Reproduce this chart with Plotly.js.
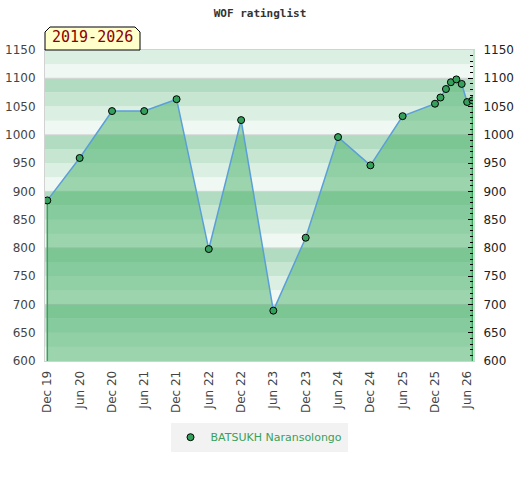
<!DOCTYPE html>
<html>
<head>
<meta charset="utf-8">
<script src="https://cdn.plot.ly/plotly-3.0.1.min.js"></script>
<style>html,body{margin:0;padding:0;background:#fff;}#chart{width:520px;height:480px;}</style>
</head>
<body>
<div id="chart"></div>
<script>
// ---- data ----
var dates = ['2019-12-01','2020-06-01','2020-12-01','2021-06-01','2021-12-01','2022-06-01','2022-12-01',
             '2023-06-01','2023-12-01','2024-06-01','2024-12-01','2025-06-01','2025-12-01',
             '2026-01-01','2026-02-01','2026-03-01','2026-04-01','2026-05-01','2026-06-01','2026-07-01'];
var ratings = [884, 959, 1042, 1042, 1063, 798, 1026, 689, 818, 996, 946, 1033, 1055,
               1066, 1081, 1093, 1098, 1090, 1058, 1061];
var tickDates = ['2019-12-01','2020-06-01','2020-12-01','2021-06-01','2021-12-01','2022-06-01','2022-12-01',
                 '2023-06-01','2023-12-01','2024-06-01','2024-12-01','2025-06-01','2025-12-01','2026-06-01'];
var tickLabels = ['Dec 19','Jun 20','Dec 20','Jun 21','Dec 21','Jun 22','Dec 22',
                  'Jun 23','Dec 23','Jun 24','Dec 24','Jun 25','Dec 25','Jun 26'];
var playerName = 'BATSUKH Naransolongo';
var chartTitle = 'WOF ratinglist';
var periodLabel = '2019-2026';
var yMin = 600, yMax = 1150;

// ---- background bands ----
var bandColors = {0:'#f0f8f3', 25:'#dcefe3', 50:'#c7e6d2', 75:'#b2dcc1'};
var shapes = [];
for (var v = yMin; v < yMax; v += 25) {
  shapes.push({type:'rect', xref:'paper', yref:'y', x0:0, x1:1, y0:v, y1:v+25,
    fillcolor: bandColors[v % 100], line:{width:0}, layer:'below'});
}
for (var g = Math.ceil(yMin/100)*100; g <= yMax; g += 100) {
  if (g === yMin) continue;
  shapes.push({type:'line', xref:'paper', yref:'y', x0:0, x1:1, y0:g, y1:g,
    line:{color:'#d2d2d2', width:1}, layer:'below'});
}
// tab behind the period label
shapes.push({type:'path', xref:'paper', yref:'paper', xsizemode:'pixel', ysizemode:'pixel',
  xanchor:0, yanchor:1, path:'M 0,0 L 0,18 L 5,23 L 90,23 L 95,18 L 95,0 Z',
  fillcolor:'#ffffcc', line:{color:'#000', width:1}, layer:'above'});

var n = dates.length;
var traces = [
  {x:dates, y:ratings, type:'scatter', mode:'lines', fill:'tozeroy',
   fillcolor:'rgba(70,175,104,0.5)', line:{color:'#5b9fd8', width:1.5},
   showlegend:false, hoverinfo:'skip'},
  {x:[dates[0], dates[0]], y:[ratings[0], yMin], type:'scatter', mode:'lines',
   line:{color:'#3f9f5f', width:1.5}, showlegend:false, hoverinfo:'skip'},
  {x:[dates[n-1], dates[n-1]], y:[ratings[n-1], yMin], type:'scatter', mode:'lines',
   line:{color:'#3f9f5f', width:1.5}, showlegend:false, hoverinfo:'skip'},
  {x:dates, y:ratings, type:'scatter', mode:'markers', name:playerName,
   marker:{color:'#34a05c', size:7, line:{color:'#000', width:1}}},
  {x:dates, y:ratings, type:'scatter', mode:'none', yaxis:'y2', showlegend:false, hoverinfo:'skip'}
];

var layout = {
  width:520, height:480,
  margin:{l:45, r:47, t:50, b:119},
  paper_bgcolor:'#fff', plot_bgcolor:'rgba(0,0,0,0)',
  title:{text:chartTitle, x:0.5, xanchor:'center', y:0.98, yanchor:'top',
    font:{family:'DejaVu Sans Mono', size:11, color:'#333', weight:'bold'}},
  xaxis:{type:'date', range:['2019-11-18','2026-07-04'], tickvals:tickDates, ticktext:tickLabels,
    tickangle:-90, tickfont:{family:'DejaVu Sans', size:12, color:'#444'},
    showgrid:false, zeroline:false, showline:true, linecolor:'#d2d2d2', linewidth:1, mirror:true,
    ticks:'', ticklabelstandoff:4, fixedrange:true},
  yaxis:{range:[yMin, yMax], dtick:50, tick0:600, showgrid:false, zeroline:false,
    showline:true, linecolor:'#d2d2d2', linewidth:1, ticks:'',
    tickfont:{family:'DejaVu Sans', size:12, color:'#444'}, ticklabelstandoff:6},
  yaxis2:{range:[yMin, yMax], dtick:50, tick0:600, overlaying:'y', side:'right', anchor:'x',
    showgrid:false, zeroline:false, showline:true, linecolor:'#bfe6cb', linewidth:2,
    ticks:'inside', ticklen:5, tickcolor:'#000', tickwidth:1,
    minor:{dtick:10, ticks:'inside', ticklen:3, tickcolor:'#000', tickwidth:1},
    tickfont:{family:'DejaVu Sans', size:12, color:'#222'}, ticklabelstandoff:6},
  showlegend:true,
  legend:{orientation:'h', x:0.5, xanchor:'center', y:-0.245, yanchor:'middle', itemwidth:30,
    bgcolor:'#f2f2f2', font:{family:'DejaVu Sans', size:11, color:'#3aa05a'}},
  shapes:shapes,
  annotations:[{text:periodLabel, xref:'paper', yref:'paper', x:0.111, xanchor:'center',
    y:1, yanchor:'bottom', yshift:2, showarrow:false,
    font:{family:'DejaVu Sans Mono', size:15, color:'#8b0000'}}]
};

Plotly.newPlot('chart', traces, layout, {displayModeBar:false, staticPlot:true});
</script>
</body>
</html>
